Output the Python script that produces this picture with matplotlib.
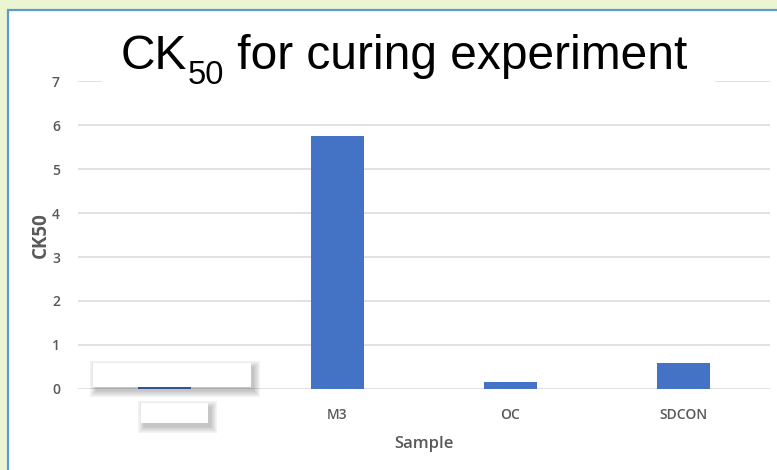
import matplotlib.pyplot as plt
from matplotlib.patches import Rectangle

# CK50 values per sample
samples = ["", "M3", "OC", "SDCON"]
ck50 = [0.05, 5.75, 0.16, 0.59]
y_ticks = [0, 1, 2, 3, 4, 5, 6, 7]

W, H = 777, 470
fig = plt.figure(figsize=(W / 100, H / 100), dpi=100)
fig.patch.set_facecolor("#ebf5d1")

# white panel with a blue frame
fig.patches.append(Rectangle((8 / W, 0), 1, 1 - 10 / H, transform=fig.transFigure,
                             facecolor="white", edgecolor="none", zorder=-1))
fig.patches.append(Rectangle((8 / W, -0.01), 1, 1 - 10 / H + 0.01, transform=fig.transFigure,
                             facecolor="none", edgecolor="#5b9bd5", lw=1.6, zorder=10))

ax = fig.add_axes([78 / W, 1 - 389 / H, (770 - 78) / W, (389 - 81) / H])
ax.set_facecolor("none")
x = range(len(samples))
ax.bar(x, ck50, width=0.31, color="#4472c4", zorder=2)
ax.set_xlim(-0.5, len(samples) - 0.5)
ax.set_ylim(0, 7)
ax.set_yticks(y_ticks)
ax.set_xticks(list(x))
ax.set_xticklabels(samples)
ax.grid(axis="y", color="#d9d9d9", lw=1.1, zorder=0)
ax.set_axisbelow(True)
for s in ax.spines.values():
    s.set_visible(False)
ax.tick_params(length=0, colors="#595959")
ax.tick_params(axis="y", pad=13)
ax.tick_params(axis="x", pad=14)
for lab in ax.get_yticklabels() + ax.get_xticklabels():
    lab.set_fontfamily("Open Sans")
    lab.set_fontsize(10)
    lab.set_fontweight("semibold")
ax.set_xlabel("Sample", fontfamily="Open Sans", fontsize=12, fontweight="semibold",
              color="#595959", labelpad=10)
ax.set_ylabel("CK50", fontfamily="Open Sans", fontsize=13.5, fontweight="bold",
              color="#595959", labelpad=1)

# title: "CK" + lowered subscript "50" + rest, on a white backing
renderer = fig.canvas.get_renderer()
tsize = 34.5
base_y = 1 - 69 / H
white = Rectangle((102 / W, 1 - 92 / H), (715 - 102) / W, (92 - 22) / H,
                  transform=fig.transFigure, facecolor="white", edgecolor="none", zorder=3)
fig.patches.append(white)
parts = [("CK", tsize, 0), ("50", tsize * 0.68, -15), (" for curing experiment", tsize, 0)]
pieces = []
for txt, size, dy in parts:
    t = fig.text(0, base_y + dy / H, txt, fontfamily="Liberation Sans", fontsize=size,
                 color="black", va="baseline", ha="left", zorder=4)
    pieces.append(t)
widths = [t.get_window_extent(renderer).width for t in pieces]
cur = 404 - sum(widths) / 2
for t, w in zip(pieces, widths):
    t.set_x(cur / W)
    cur += w

# white masking boxes with soft shadows
def masked_box(x0, y0, x1, y1):
    w, h = (x1 - x0) / W, (y1 - y0) / H
    for i in range(10):
        g = i * 0.7
        fig.patches.append(Rectangle(((x0 + 3 - g) / W, 1 - (y1 + 4 + g) / H),
                                     w + 2 * g / W, h + 2 * g / H, transform=fig.transFigure,
                                     facecolor="black", edgecolor="none", alpha=0.022, zorder=5))
    fig.patches.append(Rectangle((x0 / W, 1 - y1 / H), w, h, transform=fig.transFigure,
                                 facecolor="white", edgecolor="none", zorder=6))

masked_box(93, 363, 251, 387)
masked_box(141, 403, 208, 423)

fig.savefig("out.png", dpi=100)
